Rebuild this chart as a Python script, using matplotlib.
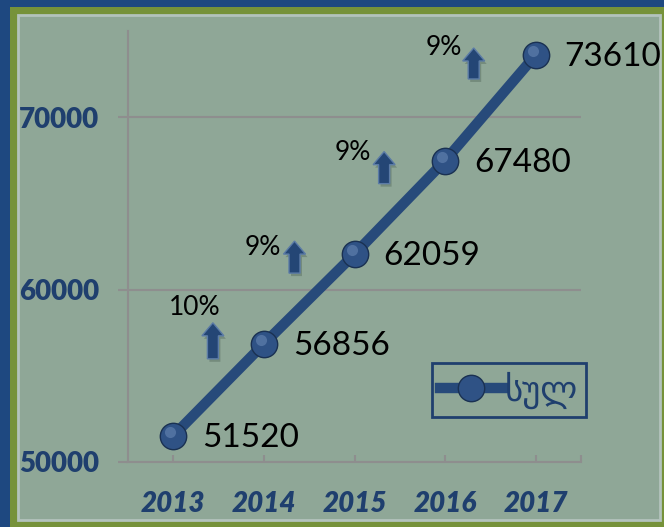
import matplotlib.pyplot as plt
import matplotlib.transforms as mtransforms
from matplotlib.patches import Rectangle, Polygon

# data
years = ["2013", "2014", "2015", "2016", "2017"]
totals = [51520, 56856, 62059, 67480, 73610]
growth = ["10%", "9%", "9%", "9%"]
legend_label = "სულ"

# colours
blue_frame = "#1e4880"
green_frame = "#76923a"
bg = "#8fa797"
dark_blue = "#1f3f6e"
line_col = "#274a7a"
grid_col = "#8e8e8e"

W, H = 664, 527
fig = plt.figure(figsize=(W / 100, H / 100), dpi=100)
fig.patch.set_facecolor(blue_frame)

# frame: green border then the grey-green panel
fig.add_artist(Rectangle((10 / W, 0), 654 / W, 520 / H, transform=fig.transFigure,
                         facecolor=green_frame, edgecolor="none", zorder=0))
fig.add_artist(Rectangle((18 / W, 7 / H), 642 / W, 505 / H, transform=fig.transFigure,
                         facecolor=bg, edgecolor="#b3c3bd", linewidth=2, zorder=0))

ax = fig.add_axes([128 / W, 1 - 462 / H, (581 - 128) / W, (462 - 31) / H])
ax.set_facecolor("none")

x = list(range(len(years)))
ax.plot(x, totals, color=line_col, linewidth=7.5, marker="o", markersize=19,
        markerfacecolor="#2f5285", markeredgecolor="#1a3152", markeredgewidth=1,
        label=legend_label, zorder=3)
# small highlight on each ball
hl_trans = mtransforms.offset_copy(ax.transData, fig=fig, x=-3, y=4, units="dots")
ax.plot(x, totals, linestyle="none", marker="o", markersize=8, markerfacecolor="#6c8bb8",
        markeredgecolor="none", alpha=0.55, transform=hl_trans, zorder=3.5)

ax.set_xlim(-0.5, 4.5)
ax.set_ylim(50000, 75000)

# axes styling
for s in ["top", "right"]:
    ax.spines[s].set_visible(False)
for s in ["left", "bottom"]:
    ax.spines[s].set_color(grid_col)
    ax.spines[s].set_linewidth(1.5)

ax.set_yticks([50000, 60000, 70000])
ax.set_yticklabels(["50000", "60000", "70000"], fontfamily="Lato", fontweight="heavy",
                   fontsize=20, color=dark_blue)
ax.tick_params(axis="y", length=7, width=1.5, color=grid_col, pad=14)
ax.yaxis.grid(True, color=grid_col, linewidth=1.5)
ax.set_axisbelow(True)

ax.set_xticks(x)
ax.set_xticklabels(years, fontfamily="Lato", fontweight="heavy", fontstyle="italic",
                   fontsize=20, color=dark_blue)
ax.set_xticks([4.5], minor=True)
ax.tick_params(axis="x", which="both", direction="in", length=5, width=1.5,
               color=grid_col, pad=21)

# value labels
for i, v in enumerate(totals):
    ax.annotate(str(v), xy=(i, v), xytext=(29, -2), textcoords="offset pixels",
                ha="left", va="center", fontsize=24, fontfamily="Lato", color="black",
                zorder=4)

# growth labels and arrows (pixel offsets from the later point)
text_offsets = [(-69, 36), (-92, 7), (-92, 8), (-92, 7)]
arrow_offsets = [(-51, -15, 21), (-60, -19, 13), (-61, -23, 9), (-62, -24, 7)]
for k, lab in enumerate(growth):
    i = k + 1
    ax.annotate(lab, xy=(i, totals[i]), xytext=text_offsets[k], textcoords="offset pixels",
                ha="center", va="center", fontsize=19, fontfamily="Lato", color="black")
    px, py = ax.transData.transform((i, totals[i]))
    dx, yb, yt = arrow_offsets[k]
    cx = px + dx
    yb, yt = py + yb, py + yt
    hl = 13
    verts = [(cx - 5.5, yb), (cx + 5.5, yb), (cx + 5.5, yt - hl), (cx + 11, yt - hl),
             (cx, yt), (cx - 11, yt - hl), (cx - 5.5, yt - hl)]
    shadow = [(vx + 2, vy - 3) for vx, vy in verts]
    fig.add_artist(Polygon(shadow, closed=True, transform=None, facecolor="#44584c",
                           edgecolor="none", alpha=0.35, zorder=2))
    fig.add_artist(Polygon(verts, closed=True, transform=None, facecolor="#244675",
                           edgecolor="#5b7ba6", linewidth=1, zorder=3))

leg = ax.legend(loc="center", bbox_to_anchor=(0.841, 0.167), frameon=True, fancybox=False,
                edgecolor=dark_blue, facecolor=bg, framealpha=1, handlelength=1.8,
                handletextpad=0.05, borderpad=0.25, labelcolor=dark_blue,
                prop={"family": ["DejaVu Sans"], "size": 25})
leg.get_frame().set_linewidth(2)

fig.savefig("out.png", dpi=100, facecolor=fig.get_facecolor())
